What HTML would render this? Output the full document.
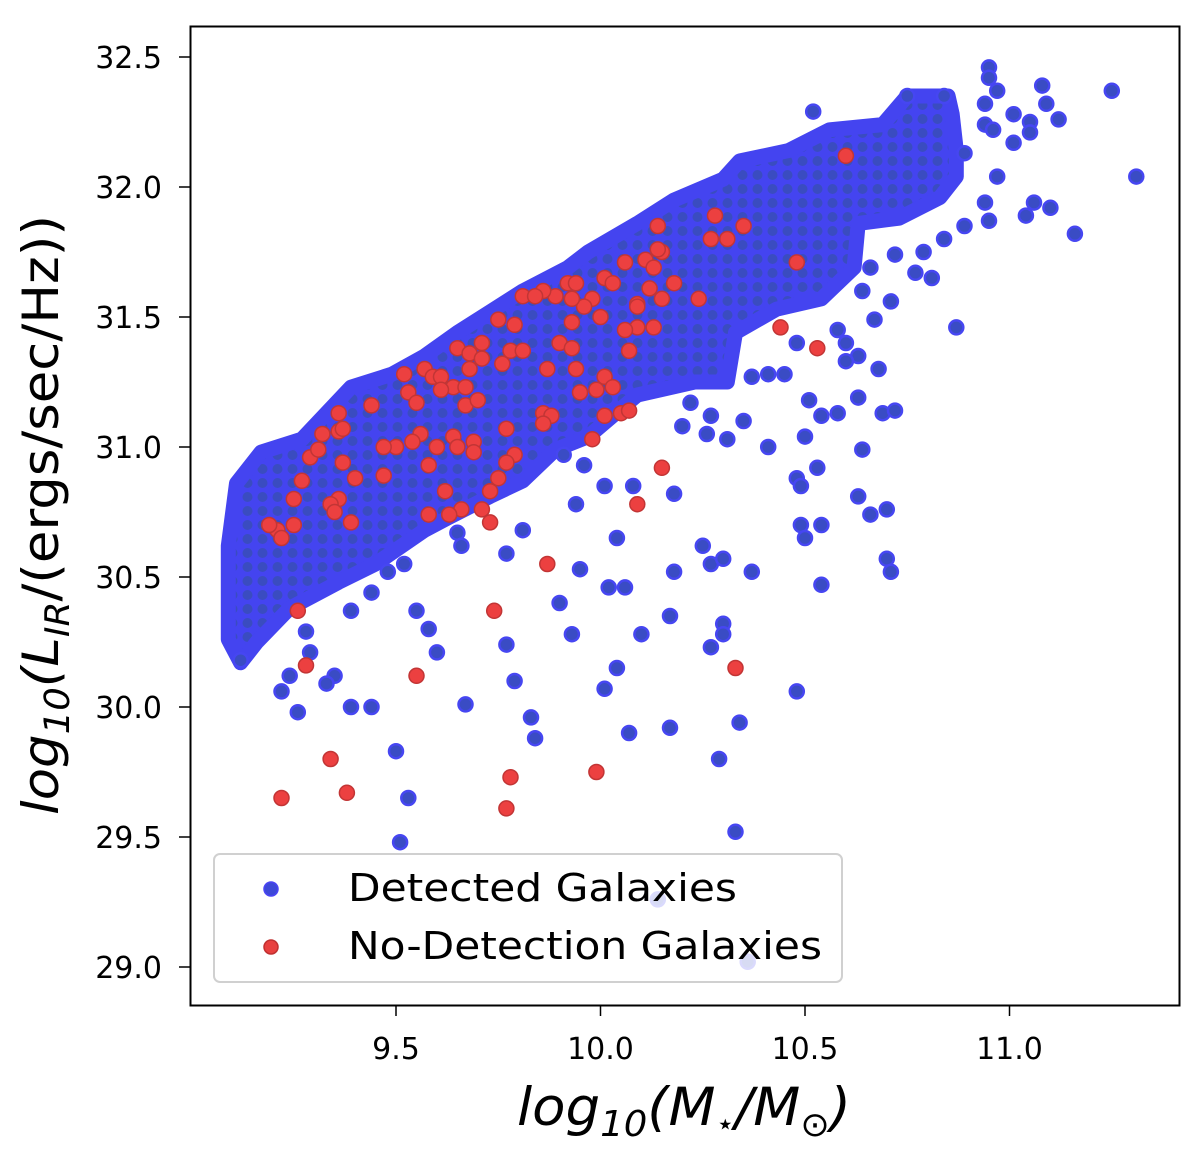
<!DOCTYPE html>
<html><head><meta charset="utf-8"><style>
html,body{margin:0;padding:0;background:#fff;}
svg{display:block;font-family:"DejaVu Sans","Liberation Sans",sans-serif;}
</style></head><body>
<svg id="chart" width="1200" height="1166" viewBox="0 0 1200 1166" xmlns="http://www.w3.org/2000/svg">
<defs>
<pattern id="dense" width="15" height="14" patternUnits="userSpaceOnUse">
<rect width="15" height="14" fill="#4444f0"/>
<circle cx="7.5" cy="7" r="5" fill="#3a4cc0"/>
</pattern>
</defs>
<g id="marks"></g>
<rect x="190.5" y="26.5" width="989" height="979" fill="none" stroke="#000" stroke-width="2"/>
<g id="axes"></g>
<text x="684" y="1125" font-size="53" font-style="italic" text-anchor="middle" textLength="334" lengthAdjust="spacingAndGlyphs">log<tspan font-size="36" dy="11">10</tspan><tspan dy="-11">(M</tspan><tspan font-size="30" dy="9">⋆</tspan><tspan dy="-9">/M</tspan><tspan font-size="34" dy="11" font-style="normal">⊙</tspan><tspan dy="-11">)</tspan></text>
<text transform="translate(58,515) rotate(-90)" font-size="50" font-style="italic" text-anchor="middle" textLength="600" lengthAdjust="spacingAndGlyphs">log<tspan font-size="35" dy="11">10</tspan><tspan dy="-11">(L</tspan><tspan font-size="34" dy="11">IR</tspan><tspan dy="-11" font-style="normal">/(ergs/sec/Hz))</tspan></text>
<g>
<rect x="214" y="854" width="628" height="128" rx="6" fill="#fff" fill-opacity="0.8" stroke="#d0d0d0" stroke-width="2"/>
<circle cx="271" cy="889" r="7" fill="#3d48d8" stroke="#4a44f5" stroke-width="1.5"/>
<text x="348" y="901" font-size="38" textLength="389" lengthAdjust="spacingAndGlyphs">Detected Galaxies</text>
<circle cx="271" cy="947" r="7" fill="#e8403f" stroke="#c03030" stroke-width="1.5"/>
<text x="348" y="959" font-size="38" textLength="474" lengthAdjust="spacingAndGlyphs">No-Detection Galaxies</text>
</g>
</svg>
<script>
const xTicks = [9.5, 10.0, 10.5, 11.0];
const xTickLabels = ["9.5", "10.0", "10.5", "11.0"];
const yTicks = [29.0, 29.5, 30.0, 30.5, 31.0, 31.5, 32.0, 32.5];
const yTickLabels = ["29.0", "29.5", "30.0", "30.5", "31.0", "31.5", "32.0", "32.5"];
const denseX = [9.09,9.09,9.11,9.17,9.27,9.39,9.49,9.57,9.65,9.73,9.81,9.92,9.97,10.09,10.18,10.30,10.34,10.46,10.56,10.69,10.75,10.85,10.86,10.87,10.87,10.83,10.73,10.63,10.62,10.54,10.43,10.33,10.31,10.23,10.09,9.97,9.89,9.81,9.73,9.63,9.57,9.45,9.36,9.24,9.16,9.12,9.09];
const denseY = [30.48,30.62,30.86,30.98,31.03,31.23,31.28,31.35,31.44,31.52,31.60,31.69,31.75,31.86,31.95,32.03,32.10,32.14,32.22,32.24,32.35,32.35,32.28,32.14,32.04,31.96,31.88,31.86,31.69,31.57,31.53,31.44,31.25,31.25,31.20,31.04,30.99,30.87,30.81,30.73,30.68,30.55,30.48,30.38,30.25,30.17,30.26];
const detectedX = [9.12,9.28,9.29,9.24,9.22,9.26,9.35,9.33,9.39,9.44,9.39,9.44,9.48,9.52,9.55,9.58,9.60,9.50,9.51,9.53,9.67,9.65,9.66,9.77,9.81,9.77,9.79,9.83,9.84,9.90,9.93,9.95,9.94,9.91,9.96,10.01,10.08,10.04,10.02,10.06,10.10,10.04,10.01,10.07,10.17,10.17,10.18,10.18,10.20,10.22,10.26,10.27,10.31,10.35,10.41,10.25,10.27,10.30,10.37,10.30,10.30,10.27,10.34,10.29,10.48,10.33,10.51,10.54,10.58,10.63,10.69,10.72,10.50,10.64,10.53,10.48,10.49,10.63,10.66,10.70,10.49,10.54,10.50,10.70,10.71,10.54,10.95,10.95,10.97,11.08,11.25,10.94,11.01,11.09,11.12,11.05,10.94,10.96,11.05,11.01,10.89,11.31,10.97,10.52,10.75,10.84,10.94,11.06,11.10,11.04,10.95,10.89,10.84,11.16,10.79,10.72,10.77,10.81,10.66,10.71,10.64,10.67,10.87,10.58,10.48,10.60,10.63,10.68,10.60,10.37,10.41,10.45,10.14,10.36];
const detectedY = [30.18,30.29,30.21,30.12,30.06,29.98,30.12,30.09,30.00,30.00,30.37,30.44,30.52,30.55,30.37,30.30,30.21,29.83,29.48,29.65,30.01,30.67,30.62,30.59,30.68,30.24,30.10,29.96,29.88,30.40,30.28,30.53,30.78,30.97,30.93,30.85,30.85,30.65,30.46,30.46,30.28,30.15,30.07,29.90,29.92,30.35,30.52,30.82,31.08,31.17,31.05,31.12,31.03,31.10,31.00,30.62,30.55,30.57,30.52,30.32,30.28,30.23,29.94,29.80,30.06,29.52,31.18,31.12,31.13,31.19,31.13,31.14,31.04,30.99,30.92,30.88,30.85,30.81,30.74,30.76,30.70,30.70,30.65,30.57,30.52,30.47,32.46,32.42,32.37,32.39,32.37,32.32,32.28,32.32,32.26,32.25,32.24,32.22,32.21,32.17,32.13,32.04,32.04,32.29,32.35,32.35,31.94,31.94,31.92,31.89,31.87,31.85,31.80,31.82,31.75,31.74,31.67,31.65,31.69,31.56,31.60,31.49,31.46,31.45,31.40,31.40,31.35,31.30,31.33,31.27,31.28,31.28,29.26,29.02];
const nodetX = [9.26,9.28,9.34,9.38,9.22,9.55,9.74,9.77,9.78,9.99,9.87,10.15,10.09,10.33,10.44,10.53,10.60,10.48,10.06,10.11,10.15,10.18,10.15,10.12,10.09,10.09,10.13,10.06,10.07,10.01,10.03,9.98,10.00,9.96,9.93,9.89,9.92,9.94,9.86,9.81,9.84,9.93,9.90,9.93,9.87,9.94,10.01,10.03,9.99,9.95,10.01,10.05,10.07,9.98,9.86,9.88,9.86,9.77,9.79,9.77,9.75,9.73,9.71,9.73,9.66,9.63,9.58,9.62,9.58,9.60,9.64,9.65,9.69,9.69,9.56,9.54,9.50,9.47,9.47,9.40,9.37,9.39,9.36,9.34,9.35,9.25,9.21,9.19,9.22,9.25,9.27,9.29,9.31,9.32,9.36,9.37,9.36,9.44,9.52,9.53,9.55,9.57,9.59,9.61,9.64,9.61,9.67,9.67,9.70,9.65,9.68,9.71,9.71,9.68,9.75,9.79,9.76,9.78,9.81,10.28,10.35,10.14,10.27,10.31,10.14,10.13,10.24,10.09];
const nodetY = [30.37,30.16,29.80,29.67,29.65,30.12,30.37,29.61,29.73,29.75,30.55,30.92,30.78,30.15,31.46,31.38,32.12,31.71,31.71,31.72,31.75,31.63,31.57,31.61,31.55,31.46,31.46,31.45,31.37,31.65,31.63,31.57,31.50,31.54,31.57,31.58,31.63,31.63,31.60,31.58,31.58,31.48,31.40,31.38,31.30,31.30,31.27,31.23,31.22,31.21,31.12,31.13,31.14,31.03,31.13,31.12,31.09,31.07,30.97,30.94,30.88,30.83,30.76,30.71,30.76,30.74,30.74,30.83,30.93,31.00,31.04,31.00,31.02,30.98,31.05,31.02,31.00,31.00,30.89,30.88,30.94,30.71,30.80,30.78,30.75,30.70,30.68,30.70,30.65,30.80,30.87,30.96,30.99,31.05,31.06,31.07,31.13,31.16,31.28,31.21,31.17,31.30,31.27,31.27,31.23,31.22,31.23,31.16,31.18,31.38,31.36,31.40,31.34,31.30,31.49,31.47,31.32,31.37,31.37,31.89,31.85,31.85,31.80,31.80,31.76,31.69,31.57,31.54];

const X0 = 9.5, XP0 = 396, XS = 409;
const Y0 = 32.0, YP0 = 187, YS = 260;
function sx(v){ return XP0 + (v - X0) * XS; }
function sy(v){ return YP0 - (v - Y0) * YS; }
const NS = "http://www.w3.org/2000/svg";
const marks = document.getElementById('marks');
const axes = document.getElementById('axes');

const poly = document.createElementNS(NS, 'polygon');


poly.setAttribute('points', denseX.map((v, i) => sx(v).toFixed(1) + ',' + sy(denseY[i]).toFixed(1)).join(' '));
poly.setAttribute('fill', 'url(#dense)');
poly.setAttribute('stroke', '#4444f0');
poly.setAttribute('stroke-width', '15');
poly.setAttribute('stroke-linejoin', 'round');
marks.appendChild(poly);

for (let i = 0; i < detectedX.length; i++) {
  const c = document.createElementNS(NS, 'circle');
  
  
  c.setAttribute('cx', sx(detectedX[i]).toFixed(1));
  c.setAttribute('cy', sy(detectedY[i]).toFixed(1));
  c.setAttribute('r', '7');
  c.setAttribute('fill', '#3a4cc4');
  c.setAttribute('stroke', '#4646f2');
  c.setAttribute('stroke-width', '2.5');
  marks.appendChild(c);
}
for (let i = 0; i < nodetX.length; i++) {
  const c = document.createElementNS(NS, 'circle');
  
  
  c.setAttribute('cx', sx(nodetX[i]).toFixed(1));
  c.setAttribute('cy', sy(nodetY[i]).toFixed(1));
  c.setAttribute('r', '7.5');
  c.setAttribute('fill', '#ec4040');
  c.setAttribute('stroke', '#c23535');
  c.setAttribute('stroke-width', '1.5');
  marks.appendChild(c);
}

for (let i = 0; i < xTicks.length; i++) {
  const x = sx(xTicks[i]);
  const t = document.createElementNS(NS, 'line');
  
  
  t.setAttribute('x1', x); t.setAttribute('x2', x);
  t.setAttribute('y1', 1006); t.setAttribute('y2', 1016);
  t.setAttribute('stroke', '#000'); t.setAttribute('stroke-width', '1.5');
  axes.appendChild(t);
  const l = document.createElementNS(NS, 'text');
  
  
  l.setAttribute('x', x); l.setAttribute('y', 1059);
  l.setAttribute('font-size', '30'); l.setAttribute('text-anchor', 'middle');
  l.textContent = xTickLabels[i];
  axes.appendChild(l);
}
for (let i = 0; i < yTicks.length; i++) {
  const y = sy(yTicks[i]);
  const t = document.createElementNS(NS, 'line');
  
  
  t.setAttribute('x1', 179); t.setAttribute('x2', 190);
  t.setAttribute('y1', y); t.setAttribute('y2', y);
  t.setAttribute('stroke', '#000'); t.setAttribute('stroke-width', '1.5');
  axes.appendChild(t);
  const l = document.createElementNS(NS, 'text');
  
  
  l.setAttribute('x', 162); l.setAttribute('y', y + 11);
  l.setAttribute('font-size', '30'); l.setAttribute('text-anchor', 'end');
  l.textContent = yTickLabels[i];
  axes.appendChild(l);
}
</script>
</body></html>
